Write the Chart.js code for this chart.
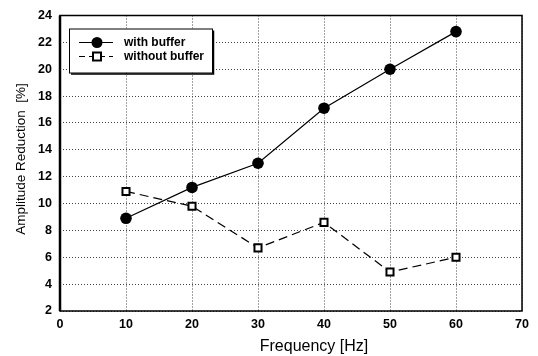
<!DOCTYPE html>
<html><head><meta charset="utf-8">
<script src="https://cdn.jsdelivr.net/npm/chart.js@4/dist/chart.umd.min.js"></script>
<style>html,body{margin:0;padding:0;background:#fff}#w{width:538px;height:356px}</style>
</head><body><div id="w"><canvas id="c"></canvas></div>
<script>
const frequencies = [10, 20, 30, 40, 50, 60];
const withBuffer = [8.9, 11.2, 13.0, 17.1, 20.0, 22.8];
const withoutBuffer = [10.9, 9.8, 6.7, 8.6, 4.9, 6.0];
const seriesLabels = ["with buffer", "without buffer"];
const xTicks = [0, 10, 20, 30, 40, 50, 60, 70];
const yTicks = [2, 4, 6, 8, 10, 12, 14, 16, 18, 20, 22, 24];
const xTitle = "Frequency [Hz]";
const yTitle = "Amplitude Reduction  [%]";

const FONT = "'Liberation Sans', Arial, sans-serif";

function drawMarker(ctx, type, x, y) {
  ctx.save();
  if (type === 'circle') {
    ctx.fillStyle = '#000';
    ctx.beginPath(); ctx.arc(x, y, 5.5, 0, Math.PI * 2); ctx.fill();
  } else {
    ctx.fillStyle = '#fff'; ctx.strokeStyle = '#000'; ctx.lineWidth = 2;
    ctx.fillRect(x - 4, y - 4, 8, 8); ctx.strokeRect(x - 4, y - 4, 8, 8);
  }
  ctx.restore();
}

const framePlugin = {
  id: 'frame',
  afterDraw(chart) {
    const {ctx, chartArea: a} = chart;
    ctx.save();
    ctx.strokeStyle = '#000';
    ctx.lineWidth = 1.5;
    ctx.strokeRect(a.left, a.top, a.right - a.left, a.bottom - a.top);
    ctx.lineWidth = 2.5;
    ctx.beginPath(); ctx.moveTo(a.left, a.top); ctx.lineTo(a.left, a.bottom); ctx.stroke();
    // axis titles
    ctx.fillStyle = '#000';
    ctx.textAlign = 'center';
    ctx.textBaseline = 'middle';
    ctx.font = "16px " + FONT;
    ctx.fillText(xTitle, 314, 347);
    ctx.save();
    ctx.translate(21, 159);
    ctx.rotate(-Math.PI / 2);
    ctx.font = "13.5px " + FONT;
    ctx.fillText(yTitle, 0, 0);
    ctx.restore();
    // legend
    ctx.textAlign = 'left';
    const lx = a.left + 9, ly = a.top + 13, lw = 143, lh = 44;
    ctx.fillStyle = '#fff';
    ctx.fillRect(lx, ly, lw, lh);
    ctx.lineWidth = 1;
    ctx.strokeRect(lx + 0.5, ly + 0.5, lw, lh);
    ctx.lineWidth = 1.5;
    ctx.beginPath(); ctx.moveTo(lx + lw + 1.5, ly + 2); ctx.lineTo(lx + lw + 1.5, ly + lh + 1.5); ctx.lineTo(lx + 2, ly + lh + 1.5); ctx.stroke();
    ctx.font = "bold 12px " + FONT;
    const rows = [{y: ly + 14, dash: [], m: 'circle'}, {y: ly + 28, dash: [6, 4], m: 'square'}];
    rows.forEach((r, i) => {
      ctx.strokeStyle = '#000'; ctx.lineWidth = 1.2;
      ctx.setLineDash(r.dash);
      ctx.beginPath(); ctx.moveTo(lx + 10, r.y); ctx.lineTo(lx + 44, r.y); ctx.stroke();
      ctx.setLineDash([]);
      drawMarker(ctx, r.m, lx + 28, r.y);
      ctx.fillStyle = '#000';
      ctx.fillText(chart.data.datasets[i].label, lx + 55, r.y);
    });
    ctx.restore();
  }
};

new Chart(document.getElementById('c'), {
  type: 'line',
  data: {
    datasets: [
      {label: seriesLabels[0], data: frequencies.map((f, i) => ({x: f, y: withBuffer[i]})),
       borderColor: '#000', borderWidth: 1.2, pointStyle: 'circle', pointRadius: 5.8,
       pointBackgroundColor: '#000', pointBorderColor: '#000', pointBorderWidth: 0, tension: 0},
      {label: seriesLabels[1], data: frequencies.map((f, i) => ({x: f, y: withoutBuffer[i]})),
       borderColor: '#000', borderWidth: 1.2, borderDash: [9, 5], pointStyle: 'rect', pointRadius: 5,
       pointBackgroundColor: '#fff', pointBorderColor: '#000', pointBorderWidth: 2, tension: 0}
    ]
  },
  options: {
    responsive: true, maintainAspectRatio: false, animation: false,
    layout: {padding: {top: 15, right: 16, left: 0, bottom: 0}},
    plugins: {legend: {display: false}, tooltip: {enabled: false}},
    scales: {
      x: {
        type: 'linear', min: 0, max: 70,
        afterBuildTicks(s) { s.ticks = xTicks.map(v => ({value: v})); },
        afterFit(s) { s.height = 45; },
        grid: {color: '#444', lineWidth: 1, drawTicks: false, tickLength: 0},
        border: {display: false, dash: [1, 2]},
        ticks: {color: '#000', font: {family: FONT, size: 12.5, weight: 'bold'}, padding: 6, maxRotation: 0},
        title: {display: false}
      },
      y: {
        type: 'linear', min: 2, max: 24,
        afterBuildTicks(s) { s.ticks = yTicks.map(v => ({value: v})); },
        afterFit(s) { s.width = 60; },
        grid: {color: '#444', lineWidth: 1, drawTicks: false},
        border: {display: false, dash: [1, 2]},
        ticks: {color: '#000', font: {family: FONT, size: 12.5, weight: 'bold'}, padding: 8},
        title: {display: false}
      }
    }
  },
  plugins: [framePlugin]
});
</script>
</body></html>
